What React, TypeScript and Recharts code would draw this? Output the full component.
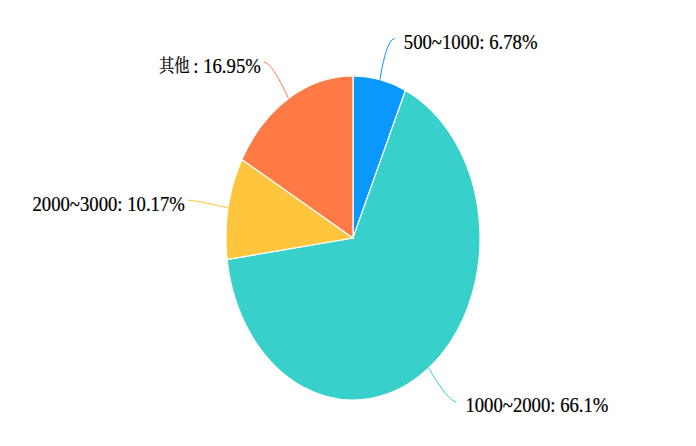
import React from 'react';
import { PieChart, Pie, Cell, Sector } from 'recharts';

const categories = ['500~1000', '1000~2000', '2000~3000', '其他'];
const values = [6.78, 66.1, 10.17, 16.95];
const labelNames = ['500~1000', '1000~2000', '2000~3000', '其他\u00a0'];
const labelPercents = [': 6.78%', ': 66.1%', ': 10.17%', ': 16.95%'];
const colors = ['#0a98ff', '#37d0ca', '#ffc53d', '#ff7a45'];

const data = categories.map((name, i) => ({ name, value: values[i] }));

const SX = 0.784;
const CX = 340;
const CY = 225;
const R = 162;

const isCJK = (s: string) => /[\u4e00-\u9fff]/.test(s);

const renderShape = (props: any) => {
  const { cx, cy } = props;
  return (
    <g transform={`translate(${cx},${cy}) scale(${SX},1) translate(${-cx},${-cy})`}>
      <Sector
        cx={props.cx}
        cy={props.cy}
        innerRadius={props.innerRadius}
        outerRadius={props.outerRadius}
        startAngle={props.startAngle}
        endAngle={props.endAngle}
        fill={props.fill}
        stroke="#ffffff"
        strokeWidth={1.2}
        vectorEffect="non-scaling-stroke"
      />
    </g>
  );
};

const renderLabel = (props: any) => {
  const { cx, cy, midAngle, outerRadius, index } = props;
  const rad = (-midAngle * Math.PI) / 180;
  const ex = cx + outerRadius * Math.cos(rad) * SX;
  const ey = cy + outerRadius * Math.sin(rad);
  const r2 = outerRadius + 42;
  const kx = cx + r2 * Math.cos(rad) * SX;
  const ky = cy + r2 * Math.sin(rad);
  const right = Math.cos(rad) >= 0;
  const endX = kx + (right ? 8 : -8);
  const endY = ky;
  const tx = endX + (right ? 9 : -3);
  const ty = endY + 3;
  const color = colors[index];
  const nm = labelNames[index];
  return (
    <g>
      <path
        d={`M${ex},${ey} Q${kx},${ky} ${endX},${endY}`}
        stroke={color}
        strokeWidth={1}
        fill="none"
      />
      <text
        transform={`translate(${tx},${ty}) scale(0.85,1)`}
        x={0}
        y={0}
        textAnchor={right ? 'start' : 'end'}
        dominantBaseline="central"
        fontSize={22}
        fontFamily="'Liberation Serif', 'Noto Serif CJK SC', 'Noto Sans CJK SC', serif"
        fill="#000000"
        stroke="#000000"
        strokeWidth={0.25}
      >
        <tspan fontSize={isCJK(nm) ? 18 : 22}>{nm}</tspan>
        <tspan>{labelPercents[index]}</tspan>
      </text>
    </g>
  );
};

export default function App() {
  return (
    <PieChart width={680} height={430}>
      <Pie
        data={data}
        dataKey="value"
        nameKey="name"
        cx={CX}
        cy={CY}
        outerRadius={R}
        innerRadius={0}
        startAngle={90}
        endAngle={-270}
        isAnimationActive={false}
        shape={renderShape}
        label={renderLabel}
        labelLine={false}
        stroke="#ffffff"
      >
        {data.map((d, i) => (
          <Cell key={d.name} fill={colors[i]} />
        ))}
      </Pie>
    </PieChart>
  );
}
